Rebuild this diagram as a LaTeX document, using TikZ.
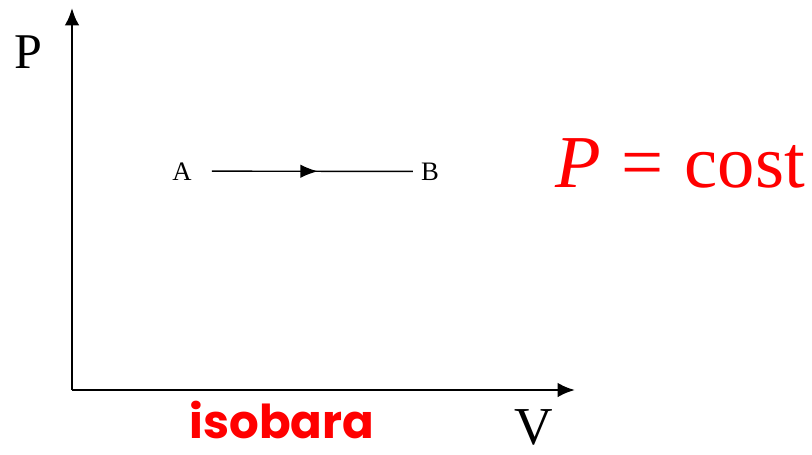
\documentclass[tikz,border=0pt]{standalone}
\usepackage{fontspec}
\setmainfont{Liberation Serif}
\newfontfamily\comicfont{Poppins}
\usetikzlibrary{arrows.meta,decorations.markings}

\begin{document}
\begin{tikzpicture}[x=0.75pt, y=-0.75pt]
\tikzstyle{axis} = [line width=2.1pt, -{Latex[length=13pt,width=11pt]}]
\tikzstyle{path} = [line width=1.1pt, postaction={decorate}, decoration={markings, mark=at position 0.55 with {\arrow{Latex[length=13pt,width=10pt]}}}]
\tikzstyle{state} = [inner sep=0pt, font=\fontsize{20}{24}\selectfont]
\tikzstyle{axlabel} = [inner sep=0pt, anchor=base]

\useasboundingbox (0,0) rectangle (812,454);

% axes
\coordinate (O) at (72,390);
\coordinate (ytip) at (72,8);
\coordinate (xtip) at (575,390);
\draw [axis] (O) -- (ytip);
\draw [axis] (O) -- (xtip);
\node [axlabel, font=\fontsize{37.5}{40}\selectfont] (plabel) at (28,68) {P};
\node [axlabel, font=\fontsize{40}{44}\selectfont] (vlabel) at (534,444) {V};

% isobaric path
\node [state, anchor=base] (A) at (182,180) {A};
\node [state, anchor=base] (B) at (430,180) {B};
\draw [path, shorten <=15pt, shorten >=6pt] (A.east) -- (B.west);

% labels
\node [axlabel, red, font=\fontsize{56}{60}\selectfont] (law) at (680,187) {\textit{P}\hspace{0.28em}=\hspace{0.28em}cost};
\node [axlabel, red, font=\comicfont\bfseries\fontsize{35}{40}\selectfont] (name) at (282,438) {isobara};

\end{tikzpicture}
\end{document}
